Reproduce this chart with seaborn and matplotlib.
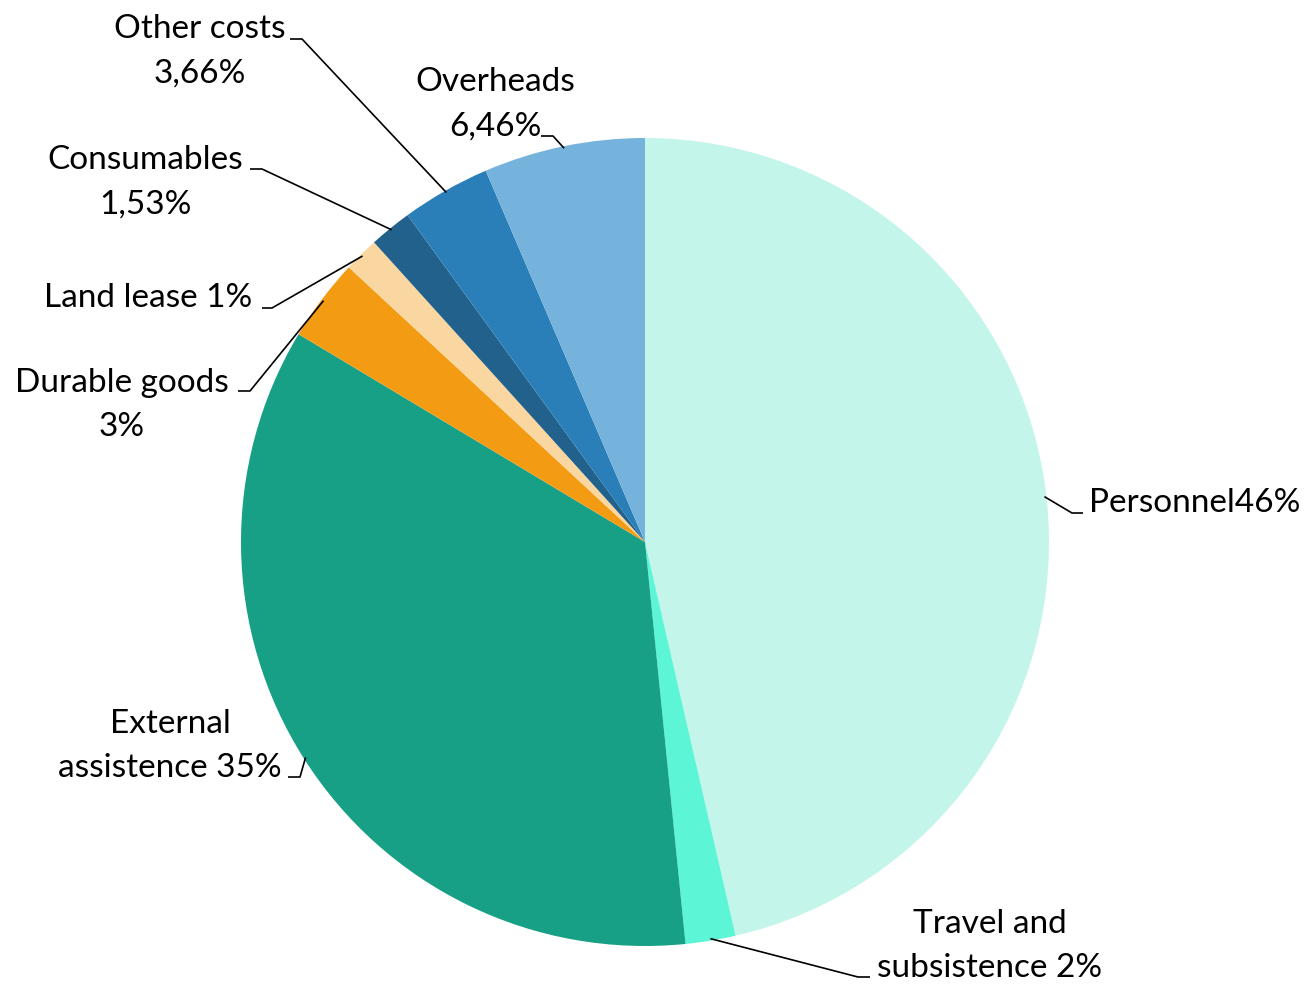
import numpy as np
import matplotlib
matplotlib.use("Agg")
import matplotlib.pyplot as plt
import seaborn as sns

# ---------------------------
# Data (shares, clockwise from 12 o'clock)
# ---------------------------
categories = ["Personnel", "Travel and subsistence", "External assistence",
              "Durable goods", "Land lease", "Consumables", "Other costs", "Overheads"]
shares = [46.4, 2.0, 35.2, 3.3, 1.4, 1.7, 3.55, 6.45]
label_texts = ["Personnel46%", "Travel and\nsubsistence 2%", "External\nassistence 35%",
               "Durable goods\n3%", "Land lease 1%", "Consumables\n1,53%",
               "Other costs\n3,66%", "Overheads\n6,46%"]
colors = ["#C4F5EA", "#5CF5D6", "#17A086", "#F39C13",
          "#FAD7A0", "#21618C", "#2A7FB8", "#76B3DC"]

# ---------------------------
# Layout (pixel space, y measured from top)
# ---------------------------
W, H = 1306, 987
CX, CY, R = 645, 543, 404

# text centre, leader start (next to text), leader elbow
label_layout = {
    "Personnel":              ((1195, 503), (1083, 514), (1072, 514)),
    "Travel and subsistence": ((990, 946), (870, 978), (858, 978)),
    "External assistence":    ((170, 746), (288, 778), (300, 778)),
    "Durable goods":          ((122, 405), (238, 392), (250, 392)),
    "Land lease":             ((148, 298), (262, 309), (272, 309)),
    "Consumables":            ((145, 182), (250, 170), (262, 170)),
    "Other costs":            ((200, 51), (290, 40), (302, 40)),
    "Overheads":              ((495, 104), (541, 137), (553, 137)),
}


def py(y):
    return H - y


sns.set_theme(style="white")
plt.rcParams['font.family'] = ['Lato', 'DejaVu Sans']

fig = plt.figure(figsize=(W / 100, H / 100), dpi=100)
ax = fig.add_axes([0, 0, 1, 1])

wedges, _ = ax.pie(
    shares,
    colors=colors,
    startangle=90,
    counterclock=False,
    center=(CX, py(CY)),
    radius=R,
    wedgeprops=dict(linewidth=0),
)

ax.set_xlim(0, W)
ax.set_ylim(0, H)
ax.set_aspect('equal')
ax.axis('off')

# ---------------------------
# Labels with leader lines
# ---------------------------
for wedge, cat, txt in zip(wedges, categories, label_texts):
    (tx, ty), (sx, sy), (ex, ey) = label_layout[cat]
    mid = np.deg2rad((wedge.theta1 + wedge.theta2) / 2)
    px = CX + R * 0.995 * np.cos(mid)
    pyy = py(CY) + R * 0.995 * np.sin(mid)
    ax.plot([sx, ex, px], [py(sy), py(ey), pyy], color="black", linewidth=1.2,
            solid_capstyle="butt", zorder=3)
    ax.text(tx, py(ty), txt, ha="center", va="center", fontsize=24,
            linespacing=1.6, color="black", zorder=4)

plt.savefig("out.png", dpi=100)
plt.close()
